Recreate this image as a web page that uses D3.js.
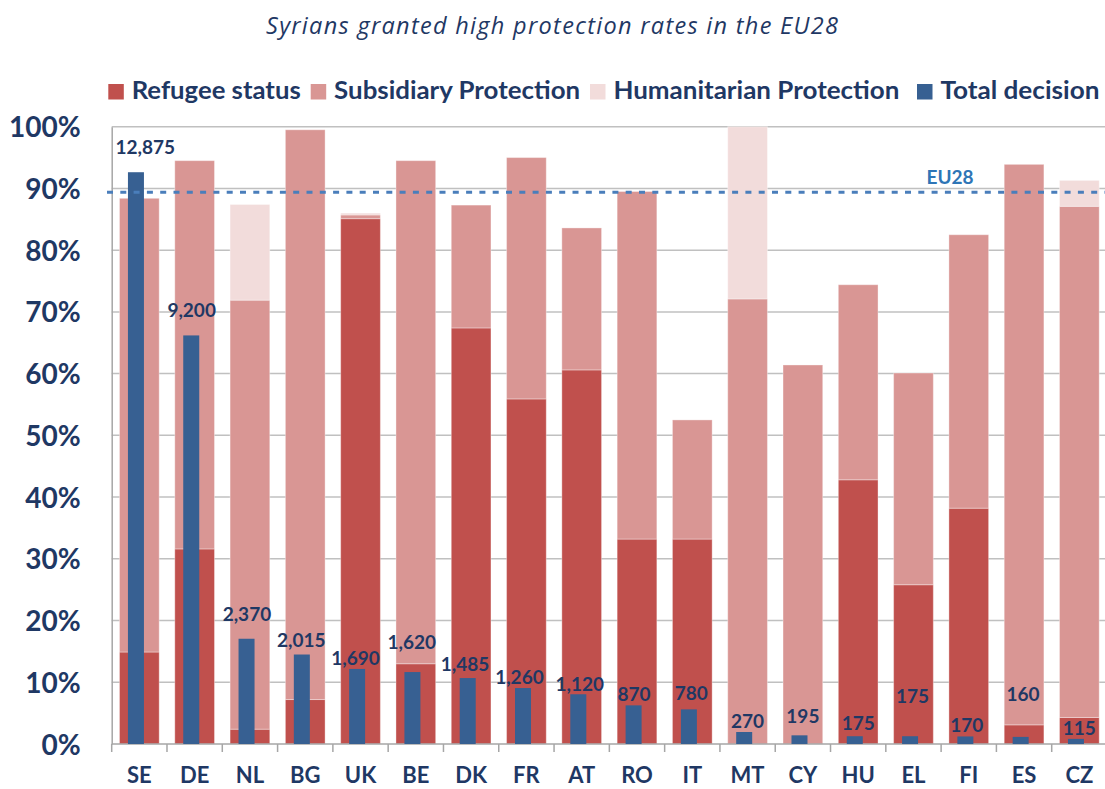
<!DOCTYPE html>
<html>
<head>
<meta charset="utf-8">
<script src="https://cdn.jsdelivr.net/npm/d3@7"></script>
<style>
  body { margin: 0; background: #fff; }
  svg { display: block; font-family: Lato, "Open Sans", sans-serif; }
</style>
</head>
<body>
<div id="chart"></div>
<script>
// data (shares in %, decisions as counts)
const countries = ["SE","DE","NL","BG","UK","BE","DK","FR","AT","RO","IT","MT","CY","HU","EL","FI","ES","CZ"];
const refugee      = [14.9, 31.6, 2.4, 7.2, 85.1, 13.0, 67.4, 55.9, 60.6, 33.2, 33.2, 0, 0, 42.8, 25.8, 38.2, 3.1, 4.3];
const subsidiary   = [73.5, 62.9, 69.5, 92.3, 0.6, 81.5, 19.9, 39.1, 23.0, 56.3, 19.3, 72.1, 61.4, 31.6, 34.3, 44.3, 90.8, 82.8];
const humanitarian = [0, 0, 15.5, 0, 0.3, 0, 0, 0, 0, 0, 0, 27.9, 0, 0, 0, 0, 0, 4.2];
const totalDecision = [12875, 9200, 2370, 2015, 1690, 1620, 1485, 1260, 1120, 870, 780, 270, 195, 175, 175, 170, 160, 115];
const eu28 = 89.4;
const yTicks = [0, 10, 20, 30, 40, 50, 60, 70, 80, 90, 100];
const seriesNames = ["Refugee status", "Subsidiary Protection", "Humanitarian Protection", "Total decision"];

// label nudges (px) - the labels were moved by hand in the original
const labelDx = [6, -3, -3, -4, -5, -4, -6, -7, -2, -3, -1, 0, 0, 0, -1, -2, -1, 0];
const labelDy = [-18, -18, -18, -8, -4, -23, -7, -4, -3, -4, -9, -4, -12, -6, -33, -4, -36, -4];

const colors = ["#c0504d", "#d99694", "#f2dcdb", "#376092"];
const navy = "#1f3864";

const width = 1105, height = 789;
const plotLeft = 111.7, plotRight = 1107, plotTop = 126.7, plotBottom = 744;

const svg = d3.select("#chart").append("svg")
    .attr("width", width)
    .attr("height", height);

// title
svg.append("text")
    .attr("x", 266)
    .attr("y", 34)
    .attr("textLength", 572)
    .attr("lengthAdjust", "spacing")
    .style("font-family", "'Open Sans', sans-serif")
    .style("font-style", "italic")
    .style("font-size", "23.5px")
    .style("fill", navy)
    .text("Syrians granted high protection rates in the EU28");

// scales
const x = d3.scaleBand()
    .domain(countries)
    .range([plotLeft, plotRight])
    .paddingInner(0.282)
    .paddingOuter(0.141);

const y = d3.scaleLinear().domain([0, 100]).range([plotBottom, plotTop]);
// secondary (hidden) axis for the decisions
const y2 = d3.scaleLinear().domain([0, 13900]).range([plotBottom, plotTop]);

// gridlines
svg.append("g")
    .selectAll("line")
    .data(yTicks.filter(d => d > 0))
    .enter()
    .append("line")
    .attr("x1", plotLeft)
    .attr("x2", width)
    .attr("y1", d => y(d))
    .attr("y2", d => y(d))
    .attr("stroke", "#c0c0c0")
    .attr("stroke-width", 1.5);

// y axis labels
const yAxis = svg.append("g")
    .attr("transform", "translate(" + plotLeft + ",0)")
    .call(d3.axisLeft(y).tickValues(yTicks).tickFormat(d => d + "%").tickSize(0).tickPadding(31));
yAxis.select(".domain").attr("stroke", "#a6a6a6").attr("stroke-width", 1.5);
yAxis.selectAll("text")
    .style("font-family", "Lato, sans-serif")
    .style("font-weight", "bold")
    .style("font-size", "28px")
    .style("fill", navy)
    .attr("dy", "0.36em");

// stacked bars
const table = countries.map((c, i) => ({
    country: c,
    refugee: refugee[i],
    subsidiary: subsidiary[i],
    humanitarian: humanitarian[i]
}));
const stack = d3.stack().keys(["refugee", "subsidiary", "humanitarian"])(table);

svg.append("g")
    .selectAll("g")
    .data(stack)
    .enter()
    .append("g")
    .attr("fill", (d, i) => colors[i])
    .selectAll("rect")
    .data(d => d)
    .enter()
    .append("rect")
    .attr("x", d => x(d.data.country))
    .attr("width", x.bandwidth())
    .attr("y", d => y(d[1]))
    .attr("height", d => y(d[0]) - y(d[1]))
    .attr("stroke", "#fff")
    .attr("stroke-opacity", 0.35)
    .attr("stroke-width", 1);

// x axis with ticks between categories
svg.append("line")
    .attr("x1", plotLeft).attr("x2", width)
    .attr("y1", plotBottom).attr("y2", plotBottom)
    .attr("stroke", "#a6a6a6")
    .attr("stroke-width", 1.5);

const step = x.step();
svg.append("g")
    .selectAll("line")
    .data(d3.range(countries.length + 1))
    .enter()
    .append("line")
    .attr("x1", i => plotLeft + i * step)
    .attr("x2", i => plotLeft + i * step)
    .attr("y1", plotBottom)
    .attr("y2", plotBottom + 8)
    .attr("stroke", "#a6a6a6")
    .attr("stroke-width", 1.5);

svg.append("g")
    .selectAll("text")
    .data(countries)
    .enter()
    .append("text")
    .attr("x", d => x(d) + x.bandwidth() / 2)
    .attr("y", 783)
    .attr("text-anchor", "middle")
    .style("font-weight", "bold")
    .style("font-size", "22px")
    .style("fill", navy)
    .text(d => d);

// total decision bars (secondary axis)
const blueW = 16;
const blueShift = -3.4;
svg.append("g")
    .selectAll("rect")
    .data(totalDecision)
    .enter()
    .append("rect")
    .attr("x", (d, i) => x(countries[i]) + x.bandwidth() / 2 + blueShift - blueW / 2)
    .attr("width", blueW)
    .attr("y", d => y2(d))
    .attr("height", d => plotBottom - y2(d))
    .attr("fill", colors[3]);

// EU28 reference line
svg.append("line")
    .attr("x1", 107)
    .attr("x2", width)
    .attr("y1", y(eu28))
    .attr("y2", y(eu28))
    .attr("stroke", "#4a7ebb")
    .attr("stroke-width", 3)
    .attr("stroke-dasharray", "6,7.3");

svg.append("text")
    .attr("x", 950)
    .attr("y", 184)
    .attr("text-anchor", "middle")
    .style("font-weight", "bold")
    .style("font-size", "19px")
    .style("fill", "#2e75b6")
    .text("EU28");

// value labels
svg.append("g")
    .selectAll("text")
    .data(totalDecision)
    .enter()
    .append("text")
    .attr("x", (d, i) => x(countries[i]) + x.bandwidth() / 2 + labelDx[i])
    .attr("y", (d, i) => y2(d) + labelDy[i])
    .attr("text-anchor", "middle")
    .style("font-weight", "bold")
    .style("font-size", "19px")
    .style("fill", navy)
    .text(d => d3.format(",")(d));

// legend
const legendX = [108.3, 310.7, 590, 917];
const legendW = [169, 246, 286, 159];
const legend = svg.append("g")
    .selectAll("g")
    .data(seriesNames)
    .enter()
    .append("g")
    .attr("transform", (d, i) => "translate(" + legendX[i] + ",84)");

legend.append("rect")
    .attr("width", 15.5)
    .attr("height", 15.5)
    .attr("fill", (d, i) => colors[i]);

legend.append("text")
    .attr("x", 23.4)
    .attr("y", 15.3)
    .attr("textLength", (d, i) => legendW[i])
    .attr("lengthAdjust", "spacingAndGlyphs")
    .style("font-weight", "bold")
    .style("font-size", "24px")
    .style("fill", navy)
    .text(d => d);
</script>
</body>
</html>
